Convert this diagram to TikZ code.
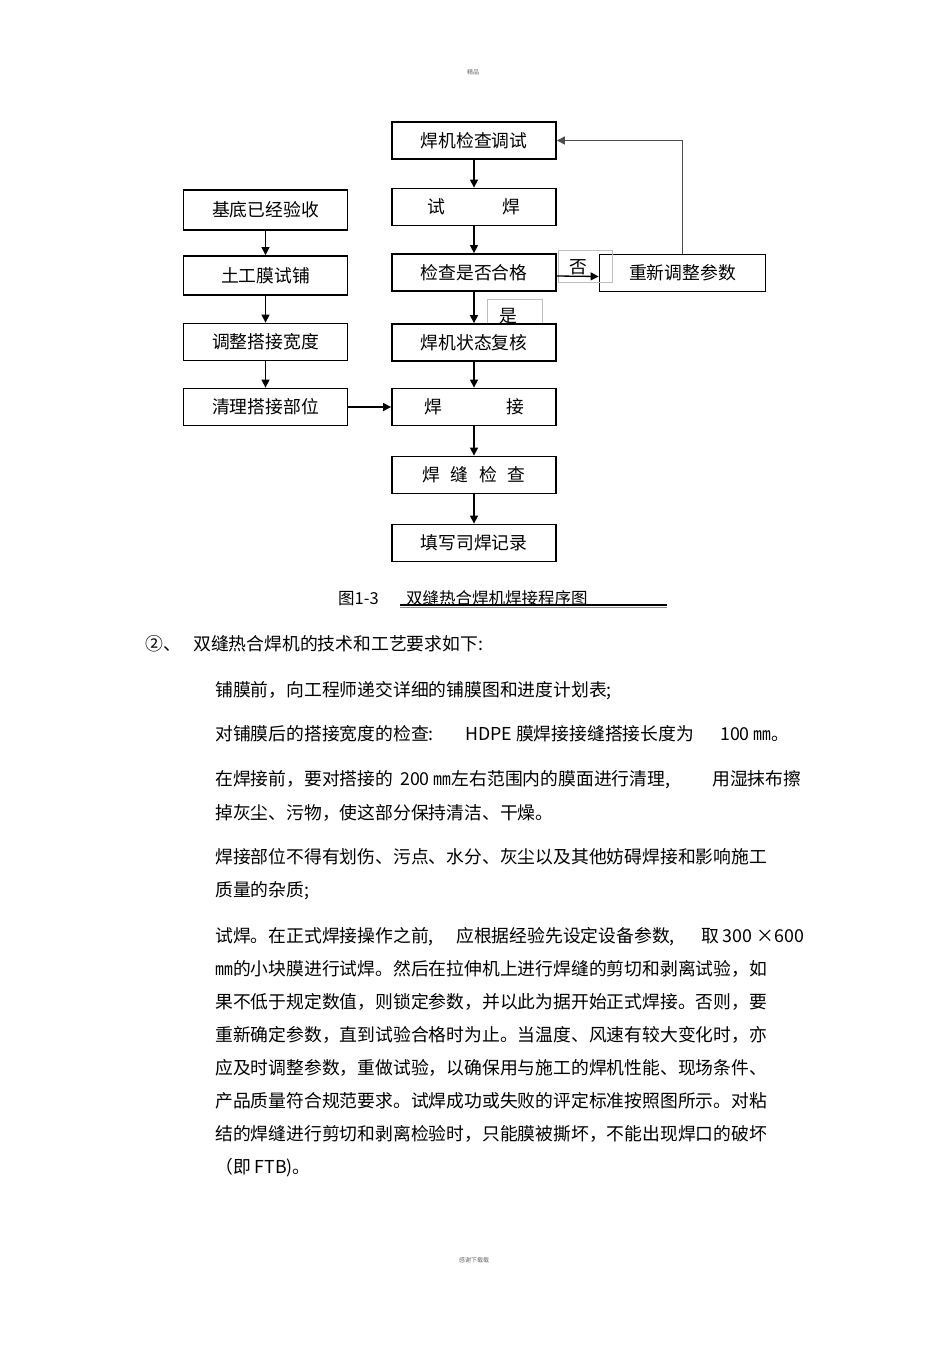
\documentclass[tikz,border=0pt]{standalone}
\usepackage{fontspec}
\setmainfont{Noto Sans CJK SC}
\usetikzlibrary{arrows.meta}
\newcommand{\bt}[1]{\raisebox{-3pt}{#1}}
\begin{document}
\begin{tikzpicture}[x=1pt,y=-1pt,
  box/.style={draw, line width=1.8pt, minimum width=164pt, minimum height=37pt, inner sep=0pt, fill=white, font=\fontsize{17.8}{20}\selectfont},
  arr/.style={line width=1.3pt, -{Triangle[length=8pt,width=8pt]}},
  fb/.style={line width=1.2pt, draw=black!70, -{Triangle[length=8pt,width=8pt]}},
  lbl/.style={draw=black!25, line width=0.6pt},
  txt/.style={anchor=base west, inner sep=0pt, font=\fontsize{17.8}{20}\selectfont},
  tiny/.style={inner sep=0pt, text=black!60, font=\fontsize{6}{7}\selectfont}]
\useasboundingbox (0,0) rectangle (950,1345);
\fill[white] (0,0) rectangle (950,1345);

\node[tiny] (hd) at (473,72) {精品};
\node[tiny] (ft) at (474,1260) {感谢下载载};

% centre column
\node[box] (a) at (474,140.5) {\bt{焊机检查调试}};
\node[box] (b) at (474,207) {\bt{试\hspace{3.2em}焊}};
\node[box] (c) at (474,272.5) {\raisebox{-4.5pt}{检查是否合格}};
% label 是
\node[lbl, minimum width=55pt, minimum height=26pt, inner sep=0pt] (yl) at (514.5,312) {};
\node[inner sep=0pt, font=\fontsize{17.8}{20}\selectfont] (yes) at (508,316) {是};
\node[box] (d) at (474,342.5) {\bt{焊机状态复核}};
\node[box] (e) at (474,407) {\bt{焊\hspace{3.6em}接}};
\node[box] (f) at (474,475) {\bt{焊\hspace{0.6em}缝\hspace{0.6em}检\hspace{0.6em}查}};
\node[box] (g) at (474,543) {\bt{填写司焊记录}};

% left column
\node[box, minimum height=40pt] (l1) at (265.5,210) {\bt{基底已经验收}};
\node[box, minimum height=39pt] (l2) at (265.5,275.5) {\bt{土工膜试铺}};
\node[box] (l3) at (265.5,342) {\bt{调整搭接宽度}};
\node[box] (l4) at (265.5,407) {\bt{清理搭接部位}};

% right
\node[box, minimum width=166pt] (r) at (682.5,273) {\bt{重新调整参数}};
\node[lbl, minimum width=54pt, minimum height=32pt, inner sep=0pt] (nl) at (585,266) {};
\node[inner sep=0pt, font=\fontsize{17.8}{20}\selectfont] (no) at (578,267) {否};

% arrows
\draw[arr] (a) -- (b);
\draw[arr] (b) -- (c);
\draw[arr] (c) -- (d);
\draw[arr] (d) -- (e);
\draw[arr] (e) -- (f);
\draw[arr] (f) -- (g);
\draw[arr] (l1) -- (l2);
\draw[arr] (l2) -- (l3);
\draw[arr] (l3) -- (l4);
\draw[arr] (l4) -- (e);
\draw[arr] ([yshift=-3.5pt]c.east) -- ([yshift=-3.5pt]r.west);
\draw[fb] (r.north) |- (a.east);

% caption
\node[anchor=base west, inner sep=0pt, font=\fontsize{16.5}{20}\selectfont] (cap1) at (338,604) {图1-3};
\node[anchor=base west, inner sep=0pt, font=\fontsize{16.5}{20}\selectfont] (cap2) at (406,604) {双缝热合焊机焊接程序图};
\coordinate (u1) at (400,605);
\coordinate (u2) at (667,605);
\draw[line width=1.1pt] (u1) -- (u2);
\draw[line width=1pt, black!45] ([yshift=-2pt]u1) -- ([yshift=-2pt]u2);

% body text
\node[txt] (t0a) at (145,650) {②、};
\node[txt] (t0b) at (193,650) {双缝热合焊机的技术和工艺要求如下:};
\node[txt] (t1) at (215,696) {铺膜前，向工程师递交详细的铺膜图和进度计划表;};
\node[txt] (t2a) at (215,740) {对铺膜后的搭接宽度的检查:};
\node[txt] (t2b) at (465,740) {HDPE 膜焊接接缝搭接长度为};
\node[txt] (t2c) at (720,740) {100 ㎜。};
\node[txt] (t3a) at (215,785) {在焊接前，要对搭接的};
\node[txt] (t3b) at (400,785) {200 ㎜左右范围内的膜面进行清理,};
\node[txt] (t3c) at (712,785) {用湿抹布擦};
\node[txt] (t4) at (215,819) {掉灰尘、污物，使这部分保持清洁、干燥。};
\node[txt] (t5) at (215,863) {焊接部位不得有划伤、污点、水分、灰尘以及其他妨碍焊接和影响施工};
\node[txt] (t6) at (215,896) {质量的杂质;};
\node[txt] (t7a) at (215,942) {试焊。在正式焊接操作之前,};
\node[txt] (t7b) at (456,942) {应根据经验先设定设备参数,};
\node[txt] (t7c) at (701,942) {取 300 ×600};
\node[txt] (t8) at (215,975) {㎜的小块膜进行试焊。然后在拉伸机上进行焊缝的剪切和剥离试验，如};
\node[txt] (t9) at (215,1008) {果不低于规定数值，则锁定参数，并以此为据开始正式焊接。否则，要};
\node[txt] (t10) at (215,1041) {重新确定参数，直到试验合格时为止。当温度、风速有较大变化时，亦};
\node[txt] (t11) at (215,1074) {应及时调整参数，重做试验，以确保用与施工的焊机性能、现场条件、};
\node[txt] (t12) at (215,1107) {产品质量符合规范要求。试焊成功或失败的评定标准按照图所示。对粘};
\node[txt] (t13) at (215,1140) {结的焊缝进行剪切和剥离检验时，只能膜被撕坏，不能出现焊口的破坏};
\node[txt] (t14) at (215,1173) {（即 FTB)。};
\end{tikzpicture}
\end{document}
